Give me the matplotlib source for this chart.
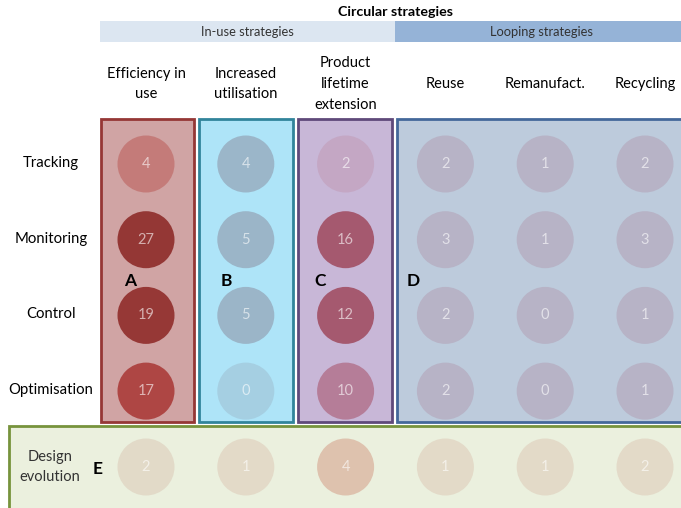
import numpy as np
import matplotlib
matplotlib.use("Agg")
import matplotlib.pyplot as plt
from matplotlib.patches import Circle, Rectangle

plt.rcParams["font.family"] = ["Lato", "DejaVu Sans"]

# counts of studies per digital function x circular strategy
strategies = ["Efficiency in\nuse", "Increased\nutilisation", "Product\nlifetime\nextension",
              "Reuse", "Remanufact.", "Recycling"]
functions = ["Tracking", "Monitoring", "Control", "Optimisation"]
counts = [[4, 4, 2, 2, 1, 2],
          [27, 5, 16, 3, 1, 3],
          [19, 5, 12, 2, 0, 1],
          [17, 0, 10, 2, 0, 1]]
design_evolution = [2, 1, 4, 1, 1, 2]
groups = ["In-use strategies", "Looping strategies"]
box_letters = ["A", "B", "C", "D", "E"]

# circle fill colours (same layout as counts)
face = [["#c47b79", "#9bb6c9", "#c4a7c4", "#b7b3c6", "#b7b3c6", "#b7b3c6"],
        ["#943735", "#9bb5c8", "#a5596f", "#b7b3c6", "#b7b3c6", "#b7b3c6"],
        ["#963836", "#9bb5c8", "#a5596f", "#b7b3c6", "#b7b3c6", "#b7b3c6"],
        ["#ae4644", "#a5cfe2", "#b57d98", "#b7b3c6", "#b7b3c6", "#b7b3c6"]]
face_e = ["#e2dac8", "#e3dac8", "#dec2ae", "#e3dac8", "#e3dac8", "#e3dac8"]

W, H = 681, 508
fig = plt.figure(figsize=(W/100, H/100), dpi=100)
ax = fig.add_axes([0, 0, 1, 1])
ax.set_xlim(0, W); ax.set_ylim(H, 0); ax.axis("off")

x0, dx = 146, 99.8     # column centres
y0, dy = 164, 75.7     # row centres
ye = 467               # design evolution row
r = 28.5

# boxes: (x, y, w, h, fill, edge)
boxes = [(101, 119, 93, 303, "#d0a4a4", "#953735"),
         (199, 119, 94, 303, "#aee4f8", "#31849b"),
         (298, 119, 94, 303, "#c8b7d7", "#5f497a"),
         (397, 119, 300, 303, "#bdcbdc", "#44689a"),
         (9, 426, 700, 100, "#ebf0de", "#77933c")]
for bx, by, bw, bh, fc, ec in boxes:
    ax.add_patch(Rectangle((bx, by), bw, bh, fc=fc, ec=ec, lw=2.0, zorder=1))

# header bands
ax.add_patch(Rectangle((100, 21), 295, 21, fc="#dce6f1", ec="none"))
ax.add_patch(Rectangle((395, 21), 290, 21, fc="#95b3d7", ec="none"))
ax.text(247, 32, groups[0], ha="center", va="center", fontsize=9.3, color="#333333")
ax.text(542, 32, groups[1], ha="center", va="center", fontsize=9.3, color="#333333")
ax.text(396, 12, "Circular strategies", ha="center", va="center", fontsize=10.3,
        weight="bold")

for j, s in enumerate(strategies):
    ax.text(x0 + j*dx, 84, s, ha="center", va="center", fontsize=10.5,
            linespacing=1.6)

for i, f in enumerate(functions):
    ax.text(51, y0 + i*dy - 1, f, ha="center", va="center", fontsize=10.7)
ax.text(50, ye, "Design\nevolution", ha="center", va="center", fontsize=10.5,
        linespacing=1.55, color="#333333")

for i, row in enumerate(counts):
    for j, v in enumerate(row):
        cx, cy = x0 + j*dx, y0 + i*dy
        ax.add_patch(Circle((cx, cy), r, fc=face[i][j], ec="none", zorder=2))
        ax.text(cx, cy, str(v), ha="center", va="center", fontsize=10.5,
                color="white", alpha=0.6, zorder=3)
for j, v in enumerate(design_evolution):
    cx = x0 + j*dx
    ax.add_patch(Circle((cx, ye), r, fc=face_e[j], ec="none", zorder=2))
    ax.text(cx, ye, str(v), ha="center", va="center", fontsize=10.5,
            color="white", alpha=0.6, zorder=3)

for (lx, ly), t in zip([(130, 281), (226, 281), (320, 281), (413, 281), (98, 469)],
                       box_letters):
    ax.text(lx, ly, t, ha="center", va="center", fontsize=12.5, weight="bold", zorder=4)

fig.savefig("out.png", dpi=100)
